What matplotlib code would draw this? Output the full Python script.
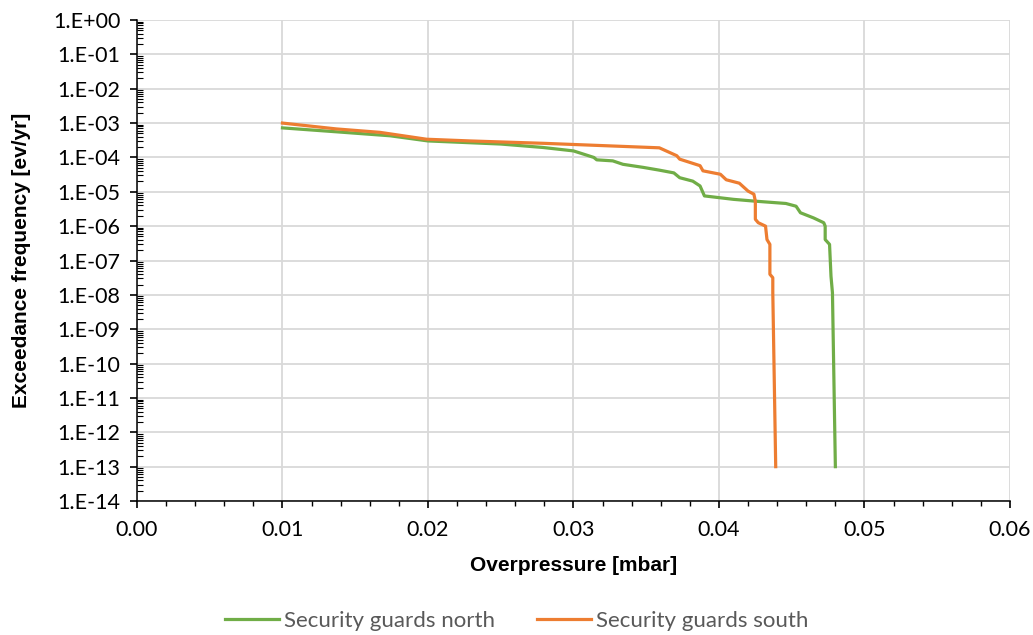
import numpy as np
import matplotlib
matplotlib.use("Agg")
import matplotlib.pyplot as plt
from matplotlib.ticker import LogLocator, MultipleLocator, NullFormatter

# overpressure [mbar] and log10 of exceedance frequency
north_x = [0.0100, 0.0139, 0.0174, 0.0200, 0.0250, 0.0279, 0.0300, 0.0314, 0.0316,
           0.0327, 0.0334, 0.0348, 0.0359, 0.0369, 0.0373, 0.0382, 0.0387, 0.0390,
           0.0410, 0.0424, 0.0446, 0.0453, 0.0456, 0.0465, 0.0472, 0.0473, 0.0473,
           0.0476, 0.0477, 0.0478, 0.0480]
north_logy = [-3.14, -3.26, -3.37, -3.52, -3.61, -3.71, -3.81, -4.00, -4.07,
              -4.10, -4.20, -4.29, -4.37, -4.45, -4.59, -4.69, -4.83, -5.12,
              -5.22, -5.27, -5.34, -5.42, -5.61, -5.76, -5.90, -6.00, -6.39,
              -6.53, -7.46, -7.94, -13.0]

south_x = [0.0100, 0.0137, 0.0167, 0.0199, 0.0229, 0.0280, 0.0359, 0.0371, 0.0373,
           0.0387, 0.0389, 0.0401, 0.0405, 0.0414, 0.0420, 0.0424, 0.0425, 0.0425,
           0.0427, 0.0432, 0.0433, 0.0435, 0.0435, 0.0437, 0.0437, 0.0439]
south_logy = [-3.00, -3.17, -3.27, -3.47, -3.52, -3.59, -3.72, -3.95, -4.05,
              -4.24, -4.39, -4.49, -4.65, -4.75, -4.98, -5.07, -5.27, -5.80,
              -5.90, -6.00, -6.39, -6.53, -7.40, -7.50, -7.94, -13.0]

series = [("Security guards north", north_x, north_logy, "#70AD47"),
          ("Security guards south", south_x, south_logy, "#ED7D31")]

ytick_exp = list(range(0, -15, -1))
ytick_labels = ["1.E+00" if e == 0 else "1.E-%02d" % (-e) for e in ytick_exp]
xticks = [0.00, 0.01, 0.02, 0.03, 0.04, 0.05, 0.06]

plt.rcParams['font.family'] = ['Lato', 'DejaVu Sans']

fig = plt.figure(figsize=(10.33, 6.35), dpi=100)
ax = fig.add_axes([0.1326, 0.211, 0.8451, 0.7575])

for name, xs, ly, c in series:
    ax.plot(xs, 10.0 ** np.array(ly), color=c, lw=2.3, label=name,
            solid_joinstyle='round')

ax.set_yscale('log')
ax.set_ylim(1e-14, 1e0)
ax.set_xlim(0, 0.06)
ax.set_yticks([10.0 ** e for e in ytick_exp])
ax.set_yticklabels(ytick_labels)
ax.yaxis.set_minor_locator(LogLocator(base=10, subs=np.arange(2, 10), numticks=100))
ax.yaxis.set_minor_formatter(NullFormatter())
ax.set_xticks(xticks)
ax.set_xticklabels(["%.2f" % v for v in xticks])
ax.xaxis.set_minor_locator(MultipleLocator(0.002))

ax.grid(True, which='major', color='#d9d9d9', lw=1.3)
ax.set_axisbelow(True)
for s in ['top', 'right']:
    ax.spines[s].set_visible(False)
ax.spines['left'].set_linewidth(1.1)
ax.spines['bottom'].set_linewidth(1.1)
ax.tick_params(axis='y', which='major', direction='out', length=5, width=1.2,
               labelsize=15.5, pad=7)
ax.tick_params(axis='y', which='minor', direction='in', length=4, width=0.8)
ax.tick_params(axis='x', which='major', direction='out', length=5, width=1.2,
               labelsize=15.5, pad=9)
ax.tick_params(axis='x', which='minor', direction='out', length=3.5, width=1.0)

ax.set_xlabel("Overpressure [mbar]", fontsize=15, fontweight='bold',
              family='Liberation Sans', labelpad=11)
ax.set_ylabel("Exceedance frequency [ev/yr]", fontsize=15, fontweight='bold',
              family='Liberation Sans', labelpad=16)

leg = fig.legend(loc='center', bbox_to_anchor=(0.5, 0.022), ncol=2, frameon=False,
                 fontsize=16, handlelength=2.45, handletextpad=0.2, columnspacing=1.9)
for t in leg.get_texts():
    t.set_color('#595959')

fig.savefig("out.png", dpi=100)
